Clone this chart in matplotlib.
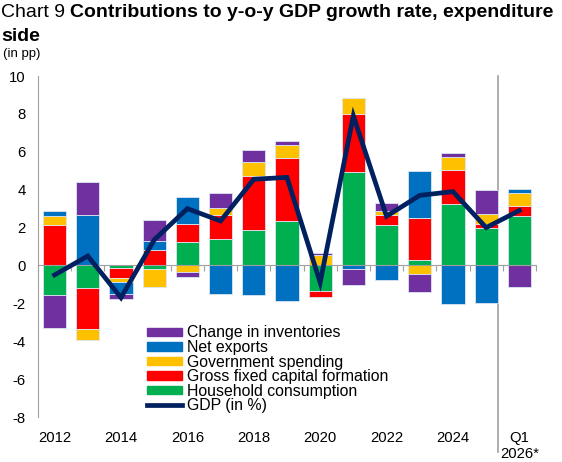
import numpy as np
import matplotlib.pyplot as plt
from matplotlib.patches import Patch
from matplotlib.lines import Line2D

plt.rcParams['font.family'] = ['Liberation Sans', 'DejaVu Sans']
plt.rcParams['axes.unicode_minus'] = False

# contributions to y-o-y GDP growth, in pp
periods = ['2012', '2013', '2014', '2015', '2016', '2017', '2018', '2019',
           '2020', '2021', '2022', '2023', '2024', '2025', 'Q1\n2026*']
household = [-1.55, -1.20, -0.14, -0.21, 1.25, 1.39, 1.85, 2.36,
             -1.37, 4.91, 2.15, 0.30, 3.24, 1.97, 2.59]
gfcf = [2.16, -2.18, -0.53, 0.83, 0.93, 1.26, 2.87, 3.29,
        -0.30, 3.11, 0.52, 2.18, 1.81, 0.21, 0.56]
government = [0.43, -0.54, -0.21, -0.93, -0.37, 0.41, 0.72, 0.72,
              0.56, 0.81, 0.23, -0.46, 0.70, 0.56, 0.65]
net_exports = [0.29, 2.67, -0.62, 0.44, 1.46, -1.51, -1.58, -1.90,
               0.00, -0.19, -0.76, 2.53, -2.04, -1.99, 0.26]
inventories = [-1.76, 1.76, -0.26, 1.14, -0.26, 0.74, 0.63, 0.21,
               0.09, -0.83, 0.42, -0.93, 0.21, 1.25, -1.13]
gdp = [-0.5, 0.5, -1.7, 1.35, 3.0, 2.35, 4.55, 4.65,
       -0.9, 7.9, 2.6, 3.7, 3.9, 2.0, 2.9]

tick_labels = [p if i % 2 == 0 and i < 13 else '' for i, p in enumerate(periods)]
tick_labels[-1] = periods[-1]

series = [
    ('Household consumption', household, '#00B050'),
    ('Gross fixed capital formation', gfcf, '#FF0000'),
    ('Government spending', government, '#FFC000'),
    ('Net exports', net_exports, '#0070C0'),
    ('Change in inventories', inventories, '#7030A0'),
]

fig = plt.figure(figsize=(5.62, 4.62), dpi=100)
ax = fig.add_axes([0.0676, 0.0974, 0.886, 0.738])

x = np.arange(len(periods))
pos_base = np.zeros(len(x))
neg_base = np.zeros(len(x))
for name, vals, col in series:
    v = np.array(vals)
    base = np.where(v >= 0, pos_base, neg_base)
    ax.bar(x, v, 0.7, bottom=base, color=col, edgecolor='#dce6f2',
           linewidth=0.6, zorder=2)
    pos_base += np.clip(v, 0, None)
    neg_base += np.clip(v, None, 0)

ax.plot(x, gdp, color='#002060', lw=3.4, solid_joinstyle='miter', zorder=3)

ax.set_xlim(-0.5, len(x) - 0.5)
ax.set_ylim(-8, 10)
ax.set_yticks(np.arange(-8, 11, 2))
ax.tick_params(axis='y', length=0, pad=9, labelsize=10.7)

for s in ['top', 'right']:
    ax.spines[s].set_visible(False)
ax.spines['left'].set_color('#a0a0a0')
ax.spines['bottom'].set_position(('data', 0))
ax.spines['bottom'].set_color('#a0a0a0')
ax.spines['bottom'].set_zorder(2.5)

# tick marks between categories on the zero line, labels at the bottom
ax.set_xticks(np.arange(-0.5, len(x), 1.0))
ax.set_xticklabels([])
ax.tick_params(axis='x', length=4, width=0.8, color='#a0a0a0', direction='out')
sec = ax.secondary_xaxis('bottom')
sec.set_xticks(x)
sec.set_xticklabels(tick_labels, fontsize=10.7)
sec.tick_params(length=0, pad=10)
sec.spines['bottom'].set_visible(False)

# separator before the quarterly figure
ax.axvline(13.37, ymin=-0.103, ymax=1.0, color='#a0a0a0', lw=1.2,
           clip_on=False, zorder=1)

handles = [Patch(color=c, label=n) for n, _, c in series[::-1]]
handles.append(Line2D([], [], color='#002060', lw=3.4, label='GDP (in %)'))
fig.legend(handles=handles, loc='upper left', bbox_to_anchor=(0.261, 0.2955),
           frameon=False, fontsize=11.4, handlelength=2.2, handleheight=0.45,
           handletextpad=0.32, labelspacing=-0.03, borderpad=0, borderaxespad=0)

renderer = fig.canvas.get_renderer()
t1 = fig.text(0.002, 0.992, 'Chart 9 ', fontsize=14, va='top', ha='left')
bb = t1.get_window_extent(renderer)
fig.text(bb.x1 / fig.bbox.width, 0.992,
         'Contributions to y-o-y GDP growth rate, expenditure',
         fontsize=14, fontweight='bold', va='top', ha='left')
fig.text(0.002, 0.940, 'side', fontsize=14, fontweight='bold',
         va='top', ha='left')
fig.text(0.005, 0.896, '(in pp)', fontsize=9.5, va='top', ha='left')

fig.savefig('out.png', dpi=100)
